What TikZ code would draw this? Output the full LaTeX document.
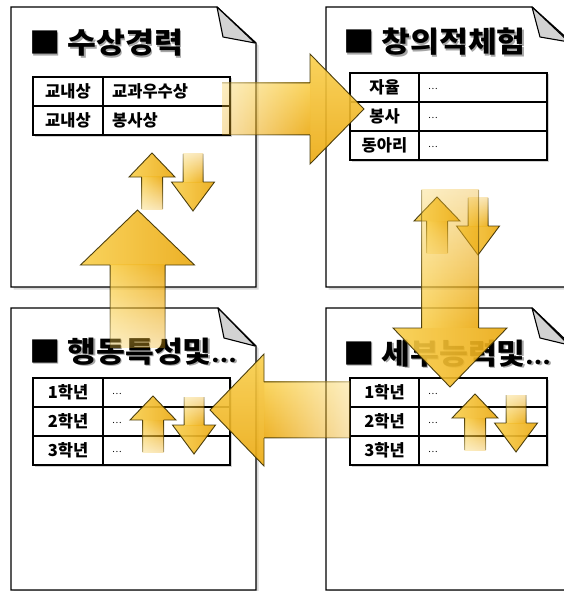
\documentclass[tikz,border=0pt]{standalone}
\usepackage{fontspec}
\newfontfamily\kr{Noto Sans CJK KR}
\newfontfamily\krw{Noto Sans CJK KR}[FakeStretch=1.08]
\usetikzlibrary{fadings,shadows}
\definecolor{goldL}{HTML}{F9CF4C}
\definecolor{goldD}{HTML}{EBA910}
\definecolor{arrline}{HTML}{3A2E00}
\definecolor{foldgray}{HTML}{D2D2D2}
\pgfdeclarefading{fadeE}{\pgfdeclarehorizontalshading{fshE}{100bp}{color(0bp)=(pgftransparent!95); color(75bp)=(pgftransparent!0); color(100bp)=(pgftransparent!0)}\pgfuseshading{fshE}}
\pgfdeclarefading{fadeW}{\pgfdeclarehorizontalshading{fshW}{100bp}{color(0bp)=(pgftransparent!0); color(25bp)=(pgftransparent!0); color(100bp)=(pgftransparent!95)}\pgfuseshading{fshW}}
\pgfdeclarefading{fadeN}{\pgfdeclareverticalshading{fshN}{100bp}{color(0bp)=(pgftransparent!95); color(75bp)=(pgftransparent!0); color(100bp)=(pgftransparent!0)}\pgfuseshading{fshN}}
\pgfdeclarefading{fadeS}{\pgfdeclareverticalshading{fshS}{100bp}{color(0bp)=(pgftransparent!0); color(25bp)=(pgftransparent!0); color(100bp)=(pgftransparent!95)}\pgfuseshading{fshS}}
\newcommand\tdots{{\fontsize{21}{21}\selectfont…}}
\tikzset{
  page/.style={draw=black, line width=1.3pt, fill=white, line join=miter,
    drop shadow={shadow xshift=2.5pt, shadow yshift=-2.5pt, opacity=0.3}},
  fold/.style={draw=black, line width=1.1pt, fill=foldgray, line join=round},
  tbl/.style={draw=black, line width=1.4pt, fill=white,
    drop shadow={shadow xshift=1.5pt, shadow yshift=-1.5pt, opacity=0.35}},
  tline/.style={draw=black, line width=1.3pt},
  ttl/.style={font=\krw\bfseries\fontsize{29}{29}\selectfont, anchor=base west, inner sep=0pt},
  ttlsh/.style={ttl, text=black!35},
  lab/.style={font=\kr\bfseries\fontsize{16.5}{17}\selectfont, inner sep=0pt},
  val/.style={font=\kr\fontsize{9}{9}\selectfont, anchor=west, inner sep=0pt},
  shH/.style={top color=goldL, bottom color=goldD, fill opacity=0.9},
  shV/.style={left color=goldL, right color=goldD, fill opacity=0.9},
  edge/.style={fill=arrline, fill opacity=0.9},
  headH/.style={draw=arrline, line width=0.9pt, line join=miter, top color=goldL, bottom color=goldD, fill opacity=0.9, draw opacity=0.9},
  headV/.style={draw=arrline, line width=0.9pt, line join=miter, left color=goldL, right color=goldD, fill opacity=0.9, draw opacity=0.9}
}
% horizontal block arrow: #1 tail x, #2 head-base x, #3 tip x, #4 centre y, #5 shaft half, #6 head half, #7 fading
\newcommand\harrow[7]{%
  \path[shH, path fading=#7] (#1,#4-#5) rectangle (#2,#4+#5);
  \fill[edge, path fading=#7] (#1,#4-#5-0.5) rectangle (#2,#4-#5+0.5) (#1,#4+#5-0.5) rectangle (#2,#4+#5+0.5);
  \path[headH] (#2,#4-#5) -- (#2,#4-#6) -- (#3,#4) -- (#2,#4+#6) -- (#2,#4+#5);
}
% vertical block arrow: #1 tail y, #2 head-base y, #3 tip y, #4 centre x, #5 shaft half, #6 head half, #7 fading
\newcommand\varrow[7]{%
  \path[shV, path fading=#7] (#4-#5,#1) rectangle (#4+#5,#2);
  \fill[edge, path fading=#7] (#4-#5-0.5,#1) rectangle (#4-#5+0.5,#2) (#4+#5-0.5,#1) rectangle (#4+#5+0.5,#2);
  \path[headV] (#4-#5,#2) -- (#4-#6,#2) -- (#4,#3) -- (#4+#6,#2) -- (#4+#5,#2);
}
\newcommand\smallpair[2]{%
  \varrow{#2+56}{#2+24}{#2}{#1}{10.5}{23}{fadeN}
  \varrow{#2+1}{#2+29}{#2+58}{#1+41}{10}{21.5}{fadeS}
}
\begin{document}
\begin{tikzpicture}[x=1pt,y=-1pt]
\useasboundingbox (0,0) rectangle (564,591);
% ---- pages ----
\path[page] (11,7) -- (217,7) -- (256,43) -- (256,287) -- (11,287) -- cycle;
\path[fold] (217,7) -- (223,37) -- (255,43) -- cycle;
\path[page] (326,7) -- (532,7) -- (571,42) -- (571,287) -- (326,287) -- cycle;
\path[fold] (532,7) -- (540,37) -- (569,42) -- cycle;
\path[page] (11,308) -- (218,308) -- (256,346) -- (256,590) -- (11,590) -- cycle;
\path[fold] (218,308) -- (224,338) -- (255,346) -- cycle;
\path[page] (326,308) -- (532,308) -- (571,345) -- (571,590) -- (326,590) -- cycle;
\path[fold] (532,308) -- (540,338) -- (569,345) -- cycle;
% ---- titles ----
\node[ttlsh] at (30.5,55.5) {■ 수상경력};
\node[ttl] (t1) at (29,54) {■ 수상경력};
\node[ttlsh] at (344.5,54.5) {■ 창의적체험};
\node[ttl] (t2) at (343,53) {■ 창의적체험};
\node[ttlsh] at (30.5,363.5) {■ 행동특성및\tdots};
\node[ttl] (t3) at (29,362) {■ 행동특성및\tdots};
\node[ttlsh] at (344.5,365.5) {■ 세부능력및\tdots};
\node[ttl] (t4) at (343,364) {■ 세부능력및\tdots};
% ---- table 1 ----
\path[tbl] (33,77) rectangle (230,135);
\draw[tline] (33,106) -- (230,106) (103,77) -- (103,135);
\node[lab] (a1) at (68,91.5) {교내상};
\node[lab, anchor=west] (a2) at (112,91.5) {교과우수상};
\node[lab] (a3) at (68,120.5) {교내상};
\node[lab, anchor=west] (a4) at (112,120.5) {봉사상};
% ---- table 2 ----
\path[tbl] (350,73) rectangle (547,160);
\draw[tline] (350,102) -- (547,102) (350,131) -- (547,131) (419,73) -- (419,160);
\node[lab] (b1) at (384.5,87.5) {자율};
\node[lab] (b2) at (384.5,116.5) {봉사};
\node[lab] (b3) at (384.5,145.5) {동아리};
\node[val] (b4) at (428,89) {…};
\node[val] (b5) at (428,118) {…};
\node[val] (b6) at (428,147) {…};
% ---- table 3 ----
\path[tbl] (33,378) rectangle (230,465);
\draw[tline] (33,407) -- (230,407) (33,436) -- (230,436) (103,378) -- (103,465);
\node[lab] (c1) at (68,392.5) {1학년};
\node[lab] (c2) at (68,421.5) {2학년};
\node[lab] (c3) at (68,450.5) {3학년};
\node[val] (c4) at (112,394) {…};
\node[val] (c5) at (112,423) {…};
\node[val] (c6) at (112,452) {…};
% ---- table 4 ----
\path[tbl] (350,378) rectangle (547,465);
\draw[tline] (350,407) -- (547,407) (350,436) -- (547,436) (419,378) -- (419,465);
\node[lab] (d1) at (384.5,392.5) {1학년};
\node[lab] (d2) at (384.5,421.5) {2학년};
\node[lab] (d3) at (384.5,450.5) {3학년};
\node[val] (d4) at (428,394) {…};
\node[val] (d5) at (428,423) {…};
\node[val] (d6) at (428,452) {…};
% ---- small up/down pairs ----
\smallpair{152}{153}
\smallpair{437}{197}
\smallpair{153}{396}
\smallpair{475}{394}
% ---- big arrows ----
\harrow{222}{310}{364}{109}{26}{55}{fadeE}
\varrow{190}{328}{387}{450}{28.5}{57}{fadeS}
\harrow{350}{264}{210}{410}{28}{56}{fadeW}
\varrow{348}{265}{210}{137.5}{27.5}{57}{fadeN}
\end{tikzpicture}
\end{document}
